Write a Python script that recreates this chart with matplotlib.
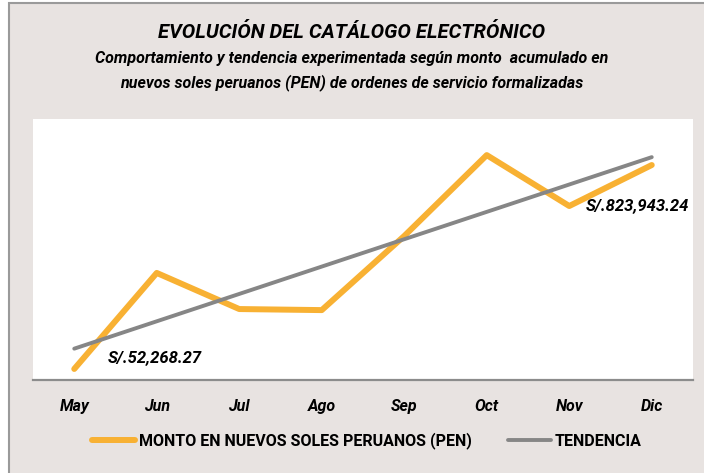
import numpy as np
import matplotlib
matplotlib.use("Agg")
import matplotlib.pyplot as plt
from matplotlib.patches import Rectangle

meses = ["May", "Jun", "Jul", "Ago", "Sep", "Oct", "Nov", "Dic"]
monto = [52268.27, 507000, 336000, 331000, 682000, 1065000, 823943.24, 1018000]
etiquetas = {0: "S/.52,268.27", 6: "S/.823,943.24"}

plt.rcParams["font.family"] = ["Roboto", "DejaVu Sans"]

bg = "#E8E3E1"
naranja = "#F8B133"
gris = "#868686"

x = np.arange(len(meses))
m, b = np.polyfit(x, monto, 1)
tendencia = m * x + b

fig = plt.figure(figsize=(7.04, 4.73), dpi=100, facecolor="white")
fig.patches.append(Rectangle((9 / 704, -0.1), 1.2, 1 - 3 / 473 + 0.1,
                             transform=fig.transFigure, facecolor=bg,
                             edgecolor="#9A9A9A", linewidth=1.5, zorder=-5))

ax = fig.add_axes([33 / 704, 93 / 473, 660 / 704, 261 / 473])
ax.set_facecolor("white")
l1, = ax.plot(x, monto, color=naranja, linewidth=4.3, solid_capstyle="round",
              label="MONTO EN NUEVOS SOLES PERUANOS (PEN)")
l2, = ax.plot(x, tendencia, color=gris, linewidth=2.8, solid_capstyle="round",
              label="TENDENCIA")
ax.set_xlim(-0.5, 7.5)
ax.set_ylim(0, 1236000)
ax.set_yticks([])
ax.set_xticks(x)
ax.set_xticklabels(meses, fontsize=11.5, fontweight="bold", fontstyle="italic")
ax.tick_params(axis="x", length=0, pad=14)
for s in ["top", "left", "right"]:
    ax.spines[s].set_visible(False)
ax.spines["bottom"].set_color("#8C8C8C")
ax.spines["bottom"].set_linewidth(1.6)

for i, t in etiquetas.items():
    ax.annotate(t, (x[i], monto[i]), xytext=(24 if i == 0 else 12, 8 if i == 0 else 0),
                textcoords="offset points", ha="left", va="center",
                fontsize=12, fontweight="bold", fontstyle="italic")

fig.text(0.5, 1 - 33 / 473, "EVOLUCIÓN DEL CATÁLOGO ELECTRÓNICO", ha="center",
         va="center", fontsize=14.5, fontweight="bold", fontstyle="italic")
fig.text(0.5, 1 - 71 / 473,
         "Comportamiento y tendencia experimentada según monto  acumulado en\n"
         "nuevos soles peruanos (PEN) de ordenes de servicio formalizadas",
         ha="center", va="center", fontsize=11.5, fontweight="bold",
         fontstyle="italic", linespacing=1.6)

fig.legend(handles=[l1, l2], loc="center", bbox_to_anchor=(0.521, 1 - 441 / 473),
           ncol=2, frameon=False, handlelength=2.7,
           handletextpad=0.2, columnspacing=2.3,
           prop={"weight": "bold", "size": 11.5})

fig.savefig("out.png", dpi=100, facecolor=fig.get_facecolor())
